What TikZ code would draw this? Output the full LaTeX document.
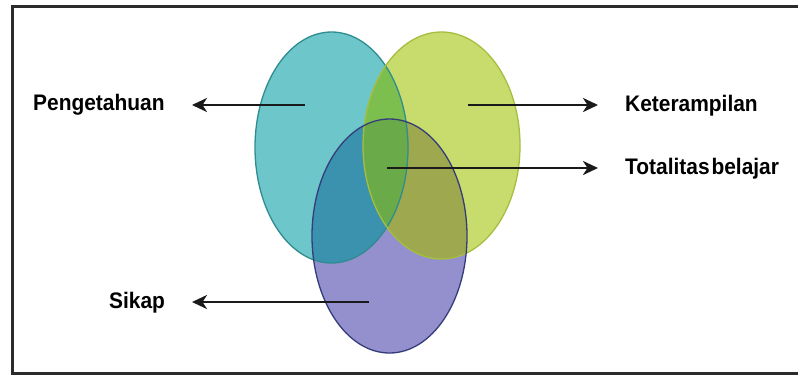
\documentclass[tikz,border=0pt]{standalone}
\usepackage{fontspec}
\setmainfont{Liberation Sans}
\usetikzlibrary{arrows.meta}
\definecolor{bOnly}{HTML}{6DC6C9}
\definecolor{gOnly}{HTML}{C8DC6E}
\definecolor{pOnly}{HTML}{9490CE}
\definecolor{bpCol}{HTML}{3A92AE}
\definecolor{gpCol}{HTML}{9EA84E}
\definecolor{bgCol}{HTML}{7DBF4E}
\definecolor{bgpCol}{HTML}{6BAA48}
\definecolor{bLine}{HTML}{2F8C8F}
\definecolor{gLine}{HTML}{A6BE3F}
\definecolor{pLine}{HTML}{353C7A}
\definecolor{frameCol}{HTML}{2B2B2B}
\definecolor{arrCol}{HTML}{1A1A1A}
\newcommand{\lbltext}[1]{\scalebox{0.93}[1]{#1}}
\tikzset{
  lbl/.style={anchor=base west, inner sep=0pt, font=\fontsize{22.5}{26}\selectfont\bfseries, text=black},
  arr/.style={draw=arrCol, line width=2.8pt, -{Stealth[length=15pt, width=14pt, inset=4.5pt]}},
}
\begin{document}
\begin{tikzpicture}[x=1pt, y=-1pt]
\useasboundingbox (0,0) rectangle (798,376);
\begin{scope}
\clip (0,0) rectangle (798,376);
\fill[white] (0,0) rectangle (798,376);
\draw[frameCol, line width=3pt] (12.5,6.5) rectangle (810,373.5);
\end{scope}
% ellipse centres
\coordinate (cb) at (331.5,147.5);
\coordinate (cg) at (441.5,145.5);
\coordinate (cp) at (389.5,236);
% base fills
\fill[bOnly] (cb) ellipse [x radius=76.5, y radius=115.5];
\fill[gOnly] (cg) ellipse [x radius=78.5, y radius=113.5];
\fill[pOnly] (cp) ellipse [x radius=77.5, y radius=117];
% pairwise overlaps
\begin{scope}
  \clip (cb) ellipse [x radius=76.5, y radius=115.5];
  \fill[bgCol] (cg) ellipse [x radius=78.5, y radius=113.5];
  \fill[bpCol] (cp) ellipse [x radius=77.5, y radius=117];
\end{scope}
\begin{scope}
  \clip (cg) ellipse [x radius=78.5, y radius=113.5];
  \fill[gpCol] (cp) ellipse [x radius=77.5, y radius=117];
\end{scope}
\begin{scope}
  \clip (cb) ellipse [x radius=76.5, y radius=115.5];
  \clip (cg) ellipse [x radius=78.5, y radius=113.5];
  \fill[bgpCol] (cp) ellipse [x radius=77.5, y radius=117];
\end{scope}
% outlines
\draw[bLine, line width=1.3pt] (cb) ellipse [x radius=76.5, y radius=115.5];
\draw[gLine, line width=1.3pt] (cg) ellipse [x radius=78.5, y radius=113.5];
\draw[pLine, line width=1.3pt] (cp) ellipse [x radius=77.5, y radius=117];
% labels
\node[lbl] (peng) at (33,110) {\lbltext{Pengetahuan}};
\node[lbl] (ket) at (625,111) {\lbltext{Keterampilan}};
\node[lbl] (tot) at (625,174) {\lbltext{Totalitas\hspace{2pt}belajar}};
\node[lbl] (sik) at (109,308) {\lbltext{Sikap}};
% arrow ends
\coordinate (s1) at (305,105);
\coordinate (t1) at (192,105);
\coordinate (s2) at (468,105);
\coordinate (t2) at (598,105);
\coordinate (s3) at (387,168);
\coordinate (t3) at (598,168);
\coordinate (s4) at (369,302);
\coordinate (t4) at (192,302);
\draw[arr] (s1) -- (t1);
\draw[arr] (s2) -- (t2);
\draw[arr] (s3) -- (t3);
\draw[arr] (s4) -- (t4);
\end{tikzpicture}
\end{document}
